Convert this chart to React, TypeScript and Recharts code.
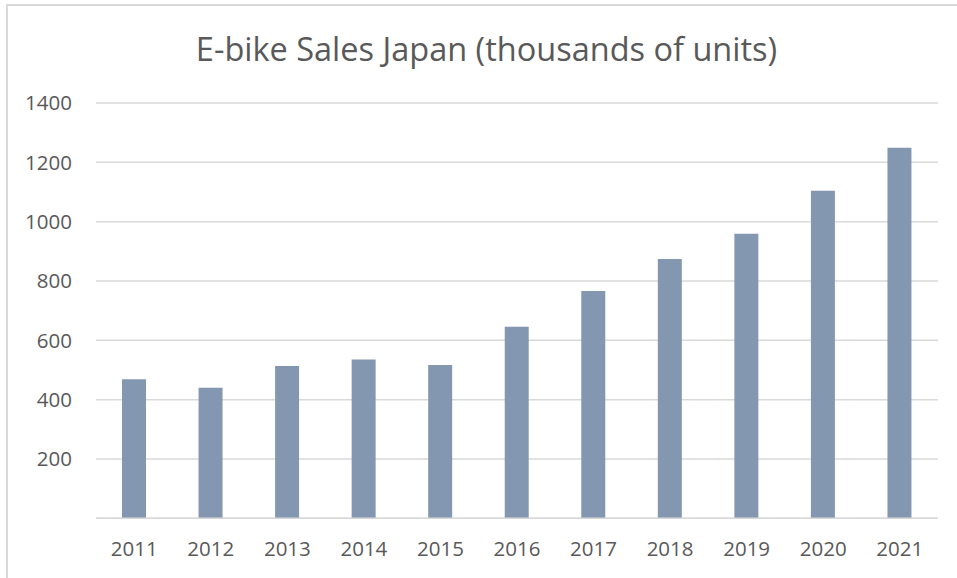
import React from 'react';
import { BarChart, Bar, XAxis, YAxis, CartesianGrid } from 'recharts';

const years = ['2011', '2012', '2013', '2014', '2015', '2016', '2017', '2018', '2019', '2020', '2021'];
const sales = [469, 440, 513, 535, 517, 646, 766, 874, 959, 1104, 1249];
const yTicks = [0, 200, 400, 600, 800, 1000, 1200, 1400];
const title = 'E-bike Sales Japan (thousands of units)';

const data = years.map((y, i) => ({ year: y, sales: sales[i] }));

const FONT = '"Open Sans", sans-serif';

export default function App() {
  return (
    <div style={{ position: 'absolute', left: 0, top: 0, width: 957, height: 578, background: '#fff', overflow: 'hidden' }}>
      <div
        style={{
          position: 'absolute',
          left: 6,
          top: 4,
          width: 1000,
          height: 1000,
          borderLeft: '2px solid #d9d9d9',
          borderTop: '2px solid #d9d9d9',
        }}
      />
      <div
        style={{
          position: 'absolute',
          left: 8,
          top: 27,
          width: 957,
          textAlign: 'center',
          fontFamily: FONT,
          fontSize: 32.5,
          color: '#595959',
          lineHeight: '44px',
          whiteSpace: 'nowrap',
        }}
      >
        {title}
      </div>
      <div style={{ position: 'absolute', left: 0, top: 0 }}>
        <BarChart width={957} height={578} data={data} margin={{ top: 103, right: 19, bottom: 20, left: 0 }}>
          <CartesianGrid vertical={false} stroke="#d9d9d9" strokeWidth={1.5} />
          <XAxis
            dataKey="year"
            axisLine={{ stroke: '#d9d9d9', strokeWidth: 1.5 }}
            tickLine={false}
            height={39.7}
            tickMargin={17.5}
            tick={{ fill: '#595959', fontSize: 20.5, fontFamily: FONT }}
            interval={0}
          />
          <YAxis
            domain={[0, 1400]}
            ticks={yTicks}
            width={96}
            axisLine={false}
            tickLine={false}
            tickMargin={18}
            tickFormatter={(v: number) => (v === 0 ? '' : String(v))}
            tick={{ fill: '#595959', fontSize: 20.5, fontFamily: FONT }}
          />
          <Bar dataKey="sales" fill="#8497b0" barSize={24} isAnimationActive={false} />
        </BarChart>
      </div>
    </div>
  );
}
